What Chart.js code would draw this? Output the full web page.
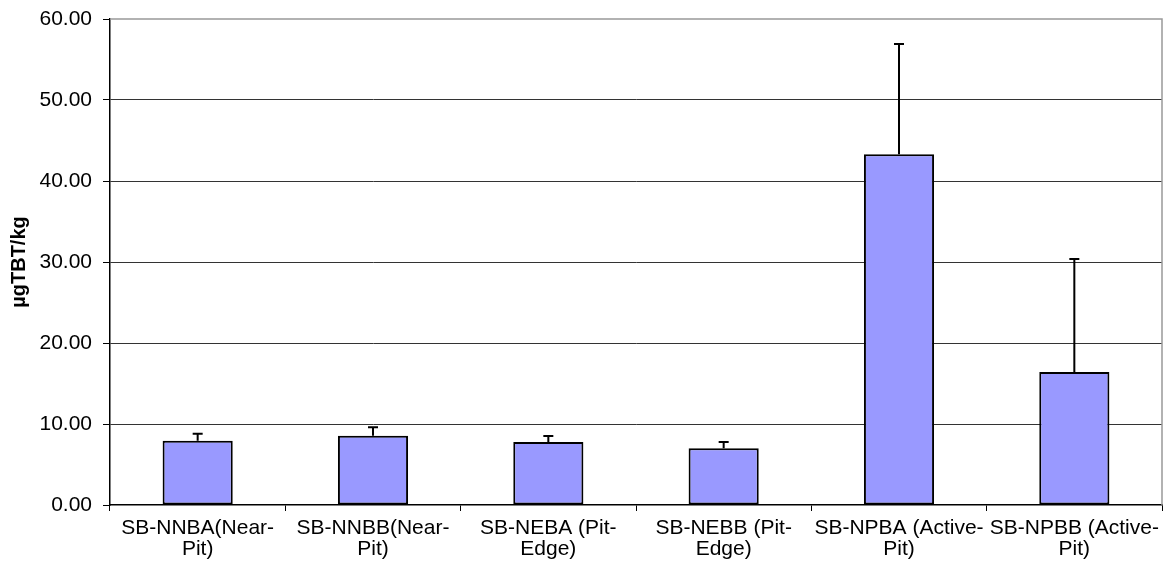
<!DOCTYPE html>
<html>
<head>
<meta charset="utf-8">
<script src="https://cdn.jsdelivr.net/npm/chart.js@4/dist/chart.umd.min.js"></script>
<style>
  html, body { margin: 0; padding: 0; background: #fff; }
  #wrap { width: 1163px; height: 566px; }
</style>
</head>
<body>
<div id="wrap"><canvas id="tbt"></canvas></div>
<script>
// sites on the x axis
let sites = [
    ['SB-NNBA(Near-', 'Pit)'],
    ['SB-NNBB(Near-', 'Pit)'],
    ['SB-NEBA (Pit-', 'Edge)'],
    ['SB-NEBB (Pit-', 'Edge)'],
    ['SB-NPBA (Active-', 'Pit)'],
    ['SB-NPBB (Active-', 'Pit)']
]
// mean TBT per site
let means = [7.94, 8.56, 7.78, 7.00, 43.3, 16.42]
// upper error (added on top of mean)
let errUp = [0.86, 1.03, 0.74, 0.78, 13.6, 13.95]

// draws the upward error bars
const errorBars = {
    id: 'errorBars',
    afterDatasetsDraw(chart) {
        let ctx = chart.ctx,
            meta = chart.getDatasetMeta(0),
            y = chart.scales.y
        ctx.save()
        ctx.strokeStyle = '#000'
        ctx.lineWidth = 2
        meta.data.forEach(function(bar, i) {
            let top = y.getPixelForValue(means[i] + errUp[i]),
                base = y.getPixelForValue(means[i])
            ctx.beginPath()
            ctx.moveTo(bar.x, base)
            ctx.lineTo(bar.x, top)
            ctx.moveTo(bar.x - 5, top)
            ctx.lineTo(bar.x + 5, top)
            ctx.stroke()
        })
        ctx.restore()
    }
}

// grey top/right frame like the original plot area
const frame = {
    id: 'frame',
    beforeDatasetsDraw(chart) {
        let a = chart.chartArea, ctx = chart.ctx
        ctx.save()
        ctx.strokeStyle = '#999'
        ctx.lineWidth = 1.5
        ctx.beginPath()
        ctx.moveTo(a.left, a.top)
        ctx.lineTo(a.right, a.top)
        ctx.lineTo(a.right, a.bottom)
        ctx.stroke()
        ctx.restore()
    }
}

var ctx = document.getElementById('tbt').getContext('2d')
var chart = new Chart(ctx, {
    type: 'bar',
    data: {
        labels: sites,
        datasets: [{
            label: 'TBT',
            data: means,
            backgroundColor: '#9999FF',
            borderColor: '#000',
            borderWidth: 2,
            borderSkipped: false,
            categoryPercentage: 0.4,
            barPercentage: 1
        }]
    },
    options: {
        responsive: true,
        maintainAspectRatio: false,
        animation: false,
        layout: { padding: { top: 19, right: 1, left: 0, bottom: 0 } },
        plugins: {
            legend: { display: false },
            tooltip: { enabled: false }
        },
        scales: {
            x: {
                afterFit(s) {
                    s.height = 61
                    s.paddingLeft = 0
                    s.paddingRight = 0
                },
                grid: {
                    offset: true,
                    drawOnChartArea: false,
                    drawTicks: true,
                    tickLength: 6,
                    tickColor: '#000'
                },
                border: { color: '#000', width: 1.5 },
                ticks: {
                    color: '#000',
                    autoSkip: false,
                    maxRotation: 0,
                    padding: 7,
                    font: { family: 'Liberation Sans, Arial', size: 21, lineHeight: 1.0 }
                }
            },
            y: {
                min: 0,
                max: 60,
                afterFit(s) {
                    s.width = 110
                    s.paddingTop = 0
                    s.paddingBottom = 0
                },
                grid: {
                    color: function(c) {
                        return (c.tick.value == 0 || c.tick.value == 60) ? 'rgba(0,0,0,0)' : '#333'
                    },
                    borderDash: [1, 1],
                    tickLength: 7,
                    tickColor: '#000',
                    tickBorderDash: []
                },
                border: { color: '#000', width: 1.5 },
                ticks: {
                    stepSize: 10,
                    color: '#000',
                    padding: 11,
                    font: { family: 'Liberation Sans, Arial', size: 21 },
                    callback: function(v) { return Number(v).toFixed(2) }
                },
                title: {
                    display: true,
                    text: 'µgTBT/kg',
                    color: '#000',
                    padding: { top: 7, bottom: 0 },
                    font: { family: 'Liberation Sans, Arial', size: 20, weight: 'bold' }
                }
            }
        }
    },
    plugins: [frame, errorBars]
})
</script>
</body>
</html>
